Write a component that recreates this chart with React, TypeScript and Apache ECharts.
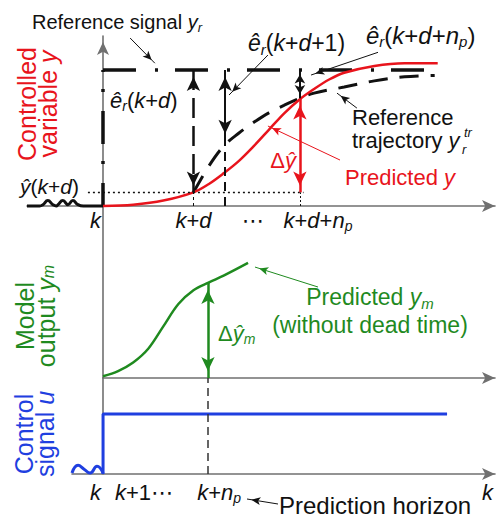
import React, { useEffect, useRef } from "react";
import * as echarts from "echarts";

const FONT = "'Liberation Sans', Arial, 'DejaVu Sans', sans-serif";
const RED = "#e8141c";
const GREEN = "#1f8a1f";
const BLUE = "#1f3fe0";
const BLACK = "#111111";
const AXIS = "#707070";

// ---- sample instants (k = 0) ----
const K = 0;
const K_D = 3;
const K_D_1 = 4.05;
const K_D_NP = 6.53;
const K_NP = 3.48;
const X_MAX = 13;

// ---- top panel: controlled variable ----
const Y_R = 1;
const Y_HAT_KD = 0.1;
const Y_TRAJ_KD1 = 0.48;
const Y_KDNP = 0.79;

const refSignalHX = [0, 11.1];
const refSignalHY = [Y_R, Y_R];
const refSignalVX = [0, 0];
const refSignalVY = [0, Y_R];

const predX = [0, 1, 2, 3, 3.5, 4, 4.5, 5, 5.5, 6, 6.5, 7, 7.5, 8, 9, 10, 11.1];
const predY = [0, 0.01, 0.04, 0.1, 0.16, 0.24, 0.33, 0.44, 0.56, 0.68, 0.78, 0.86, 0.93, 0.98, 1.03, 1.05, 1.05];

const trajX = [3, 3.5, 4, 4.5, 5, 5.5, 6, 6.5, 7, 8, 9, 10, 11];
const trajY = [0.1, 0.29, 0.44, 0.535, 0.615, 0.685, 0.74, 0.79, 0.83, 0.875, 0.92, 0.95, 0.96];

const pastYX = [-2.52, -2.1, -1.99, -1.83, -1.66, -1.55, -1.49, -1.33, -1.16, -1.0, -0.83, -0.65, -0.4, 0];
const pastYY = [0, 0, 0.01, 0.04, 0.01, 0, 0.01, 0.04, 0.01, 0.04, 0.01, 0, 0, 0];

const dotLineX = [-0.5, 6.65];
const dotLineY = [Y_HAT_KD, Y_HAT_KD];

// ---- middle panel: model output ----
const modelX = [0, 0.5, 1, 1.5, 2, 2.5, 3, 3.5, 4, 4.81];
const modelY = [0.01, 0.04, 0.09, 0.17, 0.3, 0.43, 0.51, 0.555, 0.595, 0.669];
const Y_M_KNP = 0.553;

// ---- bottom panel: control signal ----
const uX = [0, 0, 11.41];
const uY = [0, 0.625, 0.625];
const pastUX = [-1.03, -0.83, -0.63, -0.43, -0.2, 0];
const pastUY = [0.01, 0.09, 0.05, 0.01, 0.08, 0.01];

// ---- tick labels (positions = label centres) ----
const topTickValues = [-0.25, K_D, 4.97, 7.13];
const topTickLabels = ["{i|k}", "{i|k}+{i|d}", "{n|\u22ef}", "{i|k}+{i|d}+{i|n}{s|p}"];
const botTickValues = [-0.25, 1.36, 3.85, 12.75];
const botTickLabels = ["{i|k}", "{i|k}+1{n|\u22ef}", "{i|k}+{i|n}{s|p}", "{i|k}"];

// ---- axis extents per panel ----
const X_MIN = [-2.52, 0, -1.03];
const Y_MAX = [1.25, 1, 1];

const zip = (xs: number[], ys: number[]) => xs.map((x, i) => [x, ys[i]]);

function gRich(color: string, size: number, lh: number) {
  const sub = Math.round(size * 0.64);
  return {
    n: { fill: color, fontSize: size, fontFamily: FONT, lineHeight: lh },
    i: { fill: color, fontSize: size, fontFamily: FONT, fontStyle: "italic", lineHeight: lh },
    s: { fill: color, fontSize: sub, fontFamily: FONT, fontStyle: "italic", lineHeight: 12, verticalAlign: "bottom" },
    u: { fill: color, fontSize: sub, fontFamily: FONT, fontStyle: "italic", lineHeight: 12, verticalAlign: "top" },
  };
}

function T(x: number, y: number, text: string, color: string, size: number, o: any = {}) {
  const lh = o.lh || size + 4;
  return {
    type: "text",
    x,
    y,
    rotation: o.rot || 0,
    silent: true,
    z: 10,
    style: {
      text,
      rich: gRich(color, size, lh),
      fill: color,
      fontSize: size,
      fontStyle: o.italic ? "italic" : "normal",
      fontFamily: FONT,
      lineHeight: lh,
      align: o.align || "left",
      verticalAlign: o.va || "middle",
    },
  };
}

function seg(a: any, b: any, style: any, h0: number[] | null, h1: number[] | null) {
  const end = (p: any, h: number[] | null) => {
    const base = Array.isArray(p) ? { coord: p } : p;
    return {
      ...base,
      lineStyle: style,
      symbol: h ? "arrow" : "none",
      symbolSize: h || 1,
      symbolOffset: h ? [0, h[1] / 2] : 0,
    };
  };
  return [end(a, h0), end(b, h1)];
}

function ml(data: any[]) {
  return {
    silent: true,
    animation: false,
    symbol: ["none", "none"],
    label: { show: false },
    emphasis: { disabled: true },
    data,
  };
}

const solid = (color: string, width: number) => ({ color, width, type: "solid" });
const dashed = (color: string, width: number, pat: number[]) => ({ color, width, type: pat });

const BIG = [10, 14];
const SMALL = [8, 9];
const LEAD = [6, 9];

function buildOption() {
  const aStyle = { color: BLACK, fontSize: 22, fontFamily: FONT, lineHeight: 26 };
  const aRich = {
    n: { ...aStyle },
    i: { ...aStyle, fontStyle: "italic" },
    s: { ...aStyle, fontSize: 14, fontStyle: "italic", lineHeight: 12, verticalAlign: "bottom" },
  };
  const pick = (vals: number[], labels: string[]) => (v: number) => {
    const i = vals.findIndex((t) => Math.abs(t - v) < 1e-6);
    return i >= 0 ? labels[i] : "";
  };
  const axisLine = (arrow: boolean, offset: number) => ({
    show: true,
    symbol: arrow ? ["none", "arrow"] : ["none", "none"],
    symbolSize: [9, 13],
    symbolOffset: [0, offset],
    lineStyle: { color: AXIS, width: 1.6 },
  });

  const grids = [
    { left: 27, top: 36, width: 468, height: 170 },
    { left: 103, top: 206, width: 392, height: 172 },
    { left: 72, top: 378, width: 423, height: 96 },
  ].map((g) => ({ ...g, containLabel: false, outerBoundsMode: "none" }));

  const xAxes = [0, 1, 2].map((gi) => ({
    gridIndex: gi,
    type: "value",
    min: X_MIN[gi],
    max: X_MAX,
    axisLine: { ...axisLine(true, 0), onZero: false },
    axisTick: { show: false },
    splitLine: { show: false },
    axisLabel:
      gi === 1
        ? { show: false }
        : {
            show: true,
            hideOverlap: false,
            showMinLabel: true,
            showMaxLabel: true,
            customValues: gi === 0 ? topTickValues : botTickValues,
            formatter: gi === 0 ? pick(topTickValues, topTickLabels) : pick(botTickValues, botTickLabels),
            rich: aRich,
            margin: gi === 0 ? 1 : 5,
            ...aStyle,
          },
  }));

  const yAxes = [0, 1, 2].map((gi) => ({
    gridIndex: gi,
    type: "value",
    min: 0,
    max: Y_MAX[gi],
    axisLine: { ...axisLine(gi === 0, -6), onZero: true },
    axisTick: { show: false },
    splitLine: { show: false },
    axisLabel: { show: false },
  }));

  const base = (gi: number) => ({
    type: "line",
    xAxisIndex: gi,
    yAxisIndex: gi,
    symbol: "none",
    silent: true,
    clip: false,
    animation: false,
  });

  const series: any[] = [
    {
      ...base(0),
      name: "Reference signal",
      data: zip(refSignalHX, refSignalHY),
      lineStyle: { color: BLACK, width: 3.5, type: [33, 19, 3, 17], cap: "butt" },
      markLine: ml([
        seg([0.9, 1.235], [1.72, 1.05], solid(BLACK, 1), null, LEAD),
        seg([K_D, Y_R], [K_D, Y_HAT_KD], dashed(BLACK, 2.5, [20, 8]), BIG, BIG),
        seg([K_D_1, 0], [K_D_1, Y_R], dashed(BLACK, 2, [9, 6]), null, null),
        seg([K_D_1, Y_R], [K_D_1, Y_TRAJ_KD1], solid(BLACK, 2), BIG, BIG),
        seg([5.47, 1.11], [4.18, 0.816], solid(BLACK, 1), null, LEAD),
        seg([K_D_NP, Y_R], [K_D_NP, Y_KDNP], solid(BLACK, 2), SMALL, SMALL),
        seg([9.12, 1.13], [6.9, 0.963], solid(BLACK, 1), null, LEAD),
      ]),
    },
    {
      ...base(0),
      name: "Reference step",
      data: zip(refSignalVX, refSignalVY),
      lineStyle: { color: BLACK, width: 3.5, type: [33, 19, 3, 17], dashOffset: 10, cap: "butt" },
    },
    {
      ...base(0),
      name: "Past output",
      data: zip(pastYX, pastYY),
      smooth: 0.5,
      lineStyle: { color: BLACK, width: 3 },
    },
    {
      ...base(0),
      name: "Reference trajectory",
      data: zip(trajX, trajY),
      smooth: 0.35,
      lineStyle: { color: BLACK, width: 3, type: [19, 12], cap: "butt" },
      markLine: ml([seg([8.42, 0.72], [7.76, 0.83], solid(BLACK, 1), null, LEAD)]),
    },
    {
      ...base(0),
      name: "Predicted y",
      data: zip(predX, predY),
      smooth: 0.35,
      lineStyle: { color: RED, width: 2.5 },
      markLine: ml([
        seg([K_D_NP, Y_HAT_KD], [K_D_NP, Y_KDNP], solid(RED, 2.5), BIG, BIG),
        seg([7.86, 0.338], [5.47, 0.588], solid(RED, 1), null, LEAD),
      ]),
    },
    {
      ...base(0),
      name: "y hat (k+d)",
      data: zip(dotLineX, dotLineY),
      lineStyle: { color: BLACK, width: 1.5, type: [2, 3] },
      markLine: ml([
        seg([K_D, 0], [K_D, Y_HAT_KD], dashed(BLACK, 1, [3, 3]), null, null),
        seg([K_D_NP, 0], [K_D_NP, Y_HAT_KD], dashed(BLACK, 1, [2, 2]), null, null),
      ]),
    },
    {
      ...base(1),
      name: "Predicted ym",
      data: zip(modelX, modelY),
      smooth: 0.35,
      lineStyle: { color: GREEN, width: 2.5 },
      markLine: ml([
        seg([K_NP, 0], [K_NP, Y_M_KNP], solid(GREEN, 2.5), BIG, BIG),
        seg([7.13, 0.529], [5.04, 0.645], solid(GREEN, 1), null, LEAD),
      ]),
    },
    {
      ...base(2),
      name: "Control signal",
      data: zip(uX, uY),
      lineStyle: { color: BLUE, width: 3 },
      markLine: ml([
        seg([K_NP, 0], [K_NP, 1], dashed("#333", 1.5, [8, 5]), null, null),
        seg({ x: 278, y: 504 }, { x: 247, y: 499 }, solid(BLACK, 1), null, LEAD),
      ]),
    },
    {
      ...base(2),
      name: "Past control",
      data: zip(pastUX, pastUY),
      smooth: 0.5,
      lineStyle: { color: BLUE, width: 3 },
    },
  ];

  const texts = [
    T(32, 22, "Reference signal {i|y}{s|r}", BLACK, 20),
    T(110, 100, "{i|ê}{s|r}({i|k}+{i|d})", BLACK, 22),
    T(248, 43, "{i|ê}{s|r}({i|k}+{i|d}+1)", BLACK, 23),
    T(366, 35, "{i|ê}{s|r}({i|k}+{i|d}+{i|n}{s|p})", BLACK, 24),
    T(352, 128.5, "Reference\ntrajectory {i|y}", BLACK, 22, { lh: 23 }),
    T(464, 132, "tr", BLACK, 13, { lh: 14, italic: true }),
    T(462, 149, "r", BLACK, 13, { lh: 14, italic: true }),
    T(345, 177, "Predicted {i|y}", RED, 22),
    T(296, 160, "Δ{i|ŷ}", RED, 22, { align: "right" }),
    T(20, 186, "{i|ŷ}({i|k}+{i|d})", BLACK, 21),
    T(37, 104, "Controlled\nvariable {i|y}", RED, 25, { align: "center", rot: Math.PI / 2, lh: 21 }),
    T(35, 316, "Model\noutput {i|y}{s|m}", GREEN, 25, { align: "center", rot: Math.PI / 2, lh: 21 }),
    T(34, 434, "Control\nsignal {i|u}", BLUE, 25, { align: "center", rot: Math.PI / 2, lh: 21 }),
    T(218, 333, "Δ{i|ŷ}{s|m}", GREEN, 22),
    T(370, 297, "Predicted {i|y}{s|m}", GREEN, 23, { align: "center" }),
    T(370, 325, "(without dead time)", GREEN, 23, { align: "center" }),
    T(279, 505, "Prediction horizon", BLACK, 24),
  ];

  return {
    animation: false,
    backgroundColor: "#ffffff",
    textStyle: { fontFamily: FONT },
    grid: grids,
    xAxis: xAxes,
    yAxis: yAxes,
    series,
    graphic: { elements: texts },
  };
}

export default function App() {
  const ref = useRef<HTMLDivElement>(null);
  useEffect(() => {
    const chart = echarts.init(ref.current as HTMLDivElement, null, { renderer: "svg" });
    chart.setOption(buildOption() as any);
    return () => chart.dispose();
  }, []);
  return (
    <div
      ref={ref}
      style={{ position: "fixed", left: 0, top: 0, width: 502, height: 521, background: "#fff" }}
    />
  );
}
